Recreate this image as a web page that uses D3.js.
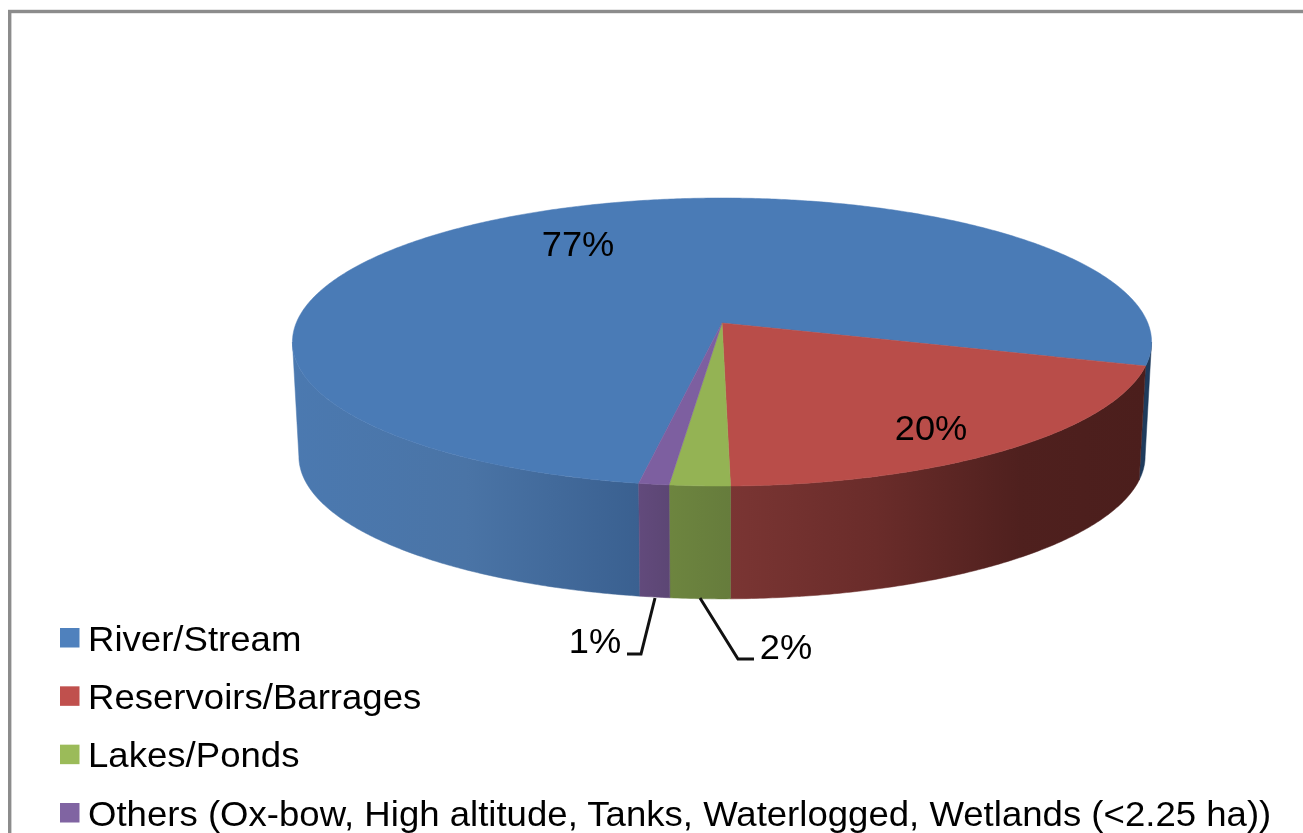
<!DOCTYPE html>
<html><head><meta charset="utf-8">
<script src="https://cdn.jsdelivr.net/npm/d3@7/dist/d3.min.js"></script>
<style>html,body{margin:0;padding:0;background:#fff;overflow:hidden}text{font-family:"Liberation Sans",Arial,sans-serif;fill:#000}</style>
</head><body><svg id="c" width="1303" height="833"></svg>
<script>
const categories = ["River/Stream","Reservoirs/Barrages","Lakes/Ponds","Others (Ox-bow, High altitude, Tanks, Waterlogged, Wetlands (<2.25 ha))"];
const values = [77,20,2,1];
const valueLabels = ["77%","20%","2%","1%"];
const topColors = ["#4a7bb6","#b94d49","#94b354","#7d5fa0"];
const legendColors = ["#4f81bd","#c0504d","#9bbb59","#8064a2"];
const wallStops = [
  [[0,"#4b79b0"],[0.5,"#4a74a6"],[1,"#3a6090"]],
  [[0,"#7a3533"],[0.35,"#6a2c2a"],[0.7,"#4f201e"],[1,"#4b1e1c"]],
  [[0,"#6d853f"],[1,"#667c3c"]],
  [[0,"#624a7c"],[1,"#5c4674"]]
];

const svg = d3.select("#c");
const rad = d => d*Math.PI/180;
const cx = 722, cy = 323, K = 425.8, k = 141.5, p = 0.132, depth = 114.5, shrinkX = 0.985, shrinkY = 0.99;

function project(a, base){
  const u = Math.sin(a), v = -Math.cos(a), w = 1 - p*v;
  return [cx + (base?shrinkX:1)*K*u/w, cy + (base?depth:0) + (base?shrinkY:1)*k*v/w];
}
const line = d3.line().curve(d3.curveLinear);
const rim = (a0,a1,base) => {
  const n = Math.max(2, Math.ceil(Math.abs(a1-a0)/rad(0.5)));
  return d3.range(n+1).map(i => project(a0+(a1-a0)*i/n, base));
};

const pie = d3.pie().sort(null).startAngle(rad(189.8)).endAngle(rad(189.8+360));
const arcs = pie(values);

// frame
svg.append("rect").attr("x",9.7).attr("y",11.5).attr("width",1300).attr("height",830)
  .attr("fill","#fff").attr("stroke","#8c8c8c").attr("stroke-width",3.4);

const g = svg.append("g");
const defs = svg.append("defs");

// walls: visible from the silhouette angle on the right round to the one on the left
const sil = Math.acos(-p);
const front = [[sil,2*Math.PI-sil],[sil+2*Math.PI,4*Math.PI-sil]];
arcs.forEach((d,i)=>{
  front.forEach(([f0,f1],j)=>{
    const a0 = Math.max(d.startAngle,f0), a1 = Math.min(d.endAngle,f1);
    if(a1<=a0) return;
    const pts = rim(a0,a1,false).concat(rim(a0,a1,true).reverse());
    let fill;
    if(i===0 && j===1){ fill = "#1f3b5c"; }
    else {
      const id = `w${i}${j}`;
      const xs = pts.map(q=>q[0]);
      const grad = defs.append("linearGradient").attr("id",id).attr("gradientUnits","userSpaceOnUse")
        .attr("x1",d3.min(xs)).attr("x2",d3.max(xs)).attr("y1",0).attr("y2",0);
      wallStops[i].forEach(s=>grad.append("stop").attr("offset",s[0]).attr("stop-color",s[1]));
      fill = `url(#${id})`;
    }
    g.append("path").attr("d",line(pts)+"Z").attr("fill",fill).attr("stroke",fill).attr("stroke-width",0.5);
  });
});

// top face
arcs.forEach((d,i)=>{
  const pts = [[cx,cy]].concat(rim(d.startAngle,d.endAngle,false));
  g.append("path").attr("d",line(pts)+"Z").attr("fill",topColors[i]).attr("stroke",topColors[i]).attr("stroke-width",0.5);
});

// leaders
const leaders = [[[700,598],[738,659],[754,659]],[[655,598],[641,654],[627,654]]];
leaders.forEach(l=>g.append("path").attr("d",line(l)).attr("fill","none").attr("stroke","#111").attr("stroke-width",3));

// data labels
const labelAt = [[578,256],[931,440],[786,659],[595,653]];
valueLabels.forEach((t,i)=>g.append("text")
  .attr("transform",`translate(${labelAt[i][0]},${labelAt[i][1]}) scale(1.05,1)`)
  .attr("text-anchor","middle").attr("font-size",34.5).text(t));

// legend
const legY = d3.scalePoint().domain(categories).range([638,813]);
categories.forEach((c,i)=>{
  const y = legY(c);
  g.append("rect").attr("x",60).attr("y",y-10).attr("width",19.5).attr("height",19.5).attr("fill",legendColors[i]);
  g.append("text").attr("transform",`translate(88,${y+12.5}) scale(1.06,1)`).attr("font-size",34.5).text(c);
});
g.attr("style","filter:blur(0.6px)");
</script></body></html>
